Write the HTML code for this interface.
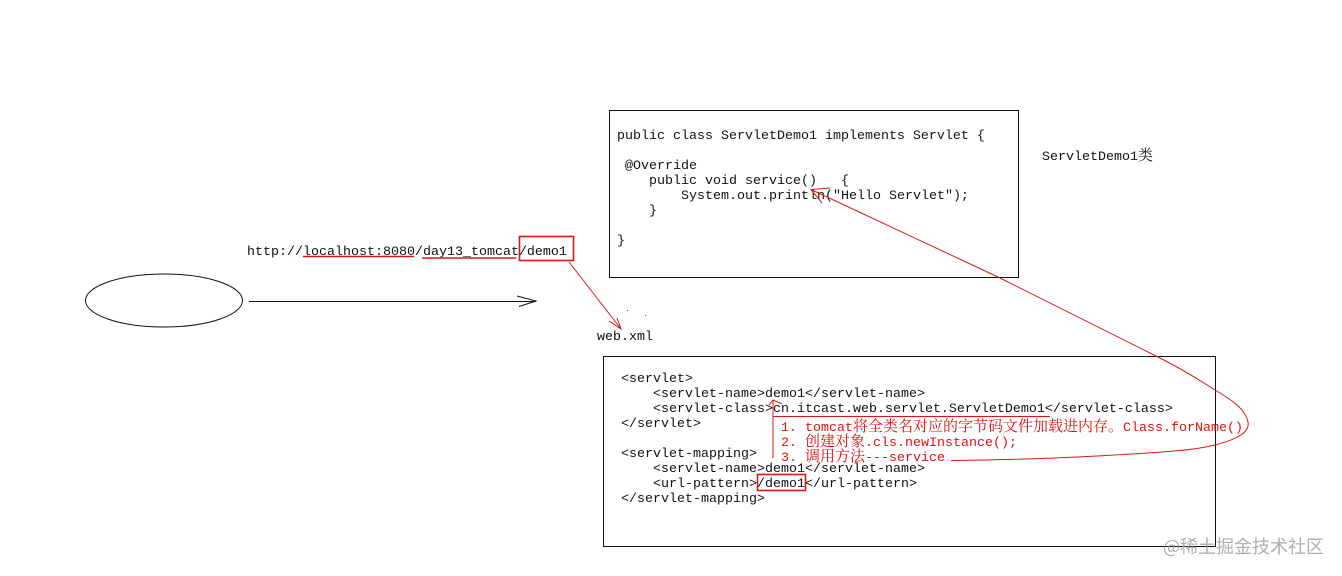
<!DOCTYPE html>
<html><head><meta charset="utf-8"><style>
html,body{margin:0;padding:0;background:#fff;width:1342px;height:576px;overflow:hidden}
svg{display:block}
text{font-family:"Liberation Mono","Noto Serif CJK SC",monospace;font-size:13.33px;fill:#111;white-space:pre}
.r{fill:#e01010}
.c{font-family:"Noto Serif CJK SC","Liberation Mono",serif;font-size:15px}
.l{fill:none;stroke:#d81818;stroke-width:1}
.t{fill:none;stroke:#d81818;stroke-width:1.6}
.b{fill:none;stroke:#111;stroke-width:1}
</style></head><body>
<svg width="1342" height="576" viewBox="0 0 1342 576" xmlns="http://www.w3.org/2000/svg">
<ellipse class="b" cx="164" cy="300.5" rx="78.5" ry="26.5"/>
<path class="b" d="M249 301.5H536M517 296L536 301L519 306.5"/>
<rect class="b" x="609.5" y="110.5" width="409" height="167"/>
<rect class="b" x="603.5" y="356.5" width="612" height="190"/>

<text x="247" y="255">http://localhost:8080/day13_tomcat/demo1</text>
<path class="t" d="M303 256.5H414M422 258H516"/>
<rect class="t" x="519.5" y="236.5" width="54" height="24"/>
<path class="l" d="M569 262L621 329M609 321L621 329L617 318"/>
<rect x="627" y="310" width="1" height="1" fill="#d81818"/><rect x="645" y="315" width="1" height="1" fill="#d81818"/>
<text x="597" y="340">web.xml</text>

<text x="617" y="139">public class ServletDemo1 implements Servlet {</text>
<text x="625" y="169">@Override</text>
<text x="649" y="184">public void service()   {</text>
<text x="681" y="199">System.out.println("Hello Servlet");</text>
<text x="649" y="214">}</text>
<text x="617" y="244">}</text>
<text x="1042" y="160">ServletDemo1<tspan class="c">类</tspan></text>

<text x="621" y="382">&lt;servlet&gt;</text>
<text x="653" y="397">&lt;servlet-name&gt;demo1&lt;/servlet-name&gt;</text>
<text x="653" y="412">&lt;servlet-class&gt;cn.itcast.web.servlet.ServletDemo1&lt;/servlet-class&gt;</text>
<text x="621" y="427">&lt;/servlet&gt;</text>
<text x="621" y="457">&lt;servlet-mapping&gt;</text>
<text x="653" y="472">&lt;servlet-name&gt;demo1&lt;/servlet-name&gt;</text>
<text x="653" y="487">&lt;url-pattern&gt;/demo1&lt;/url-pattern&gt;</text>
<text x="621" y="502">&lt;/servlet-mapping&gt;</text>

<text class="r" x="781" y="431">1.</text>
<text class="r" x="805" y="431">tomcat<tspan class="c r">将全类名对应的字节码文件加载进内存。</tspan><tspan x="1123">Class.forName()</tspan></text>
<text class="r" x="781" y="446">2.</text>
<text class="r" x="805" y="446"><tspan class="c r">创建对象</tspan><tspan x="865">.cls.newInstance();</tspan></text>
<text class="r" x="781" y="461">3.</text>
<text class="r" x="805" y="461"><tspan class="c r">调用方法</tspan><tspan x="865">---service</tspan></text>

<path class="l" d="M773 416.5H1050"/>
<path class="l" d="M773 458V400M769 405L773 400L782 404"/>
<rect class="t" x="757.5" y="474.5" width="48" height="16"/>
<path class="l" d="M951 460.5C1000 460 1060 458 1097 456C1150 453 1192 451 1215 445C1238 439 1250 432 1248 422C1245 408 1230 399 1215 390C1198 379 1180 368 1158 357L998 277L811 189.5M830 188L811 189.5L822 203"/>

<text x="1163" y="553" style="font-family:'Noto Sans CJK SC','Liberation Sans',sans-serif;font-size:18px;fill:#9a9a9a;fill-opacity:.8">@稀土掘金技术社区</text>
</svg>
</body></html>
